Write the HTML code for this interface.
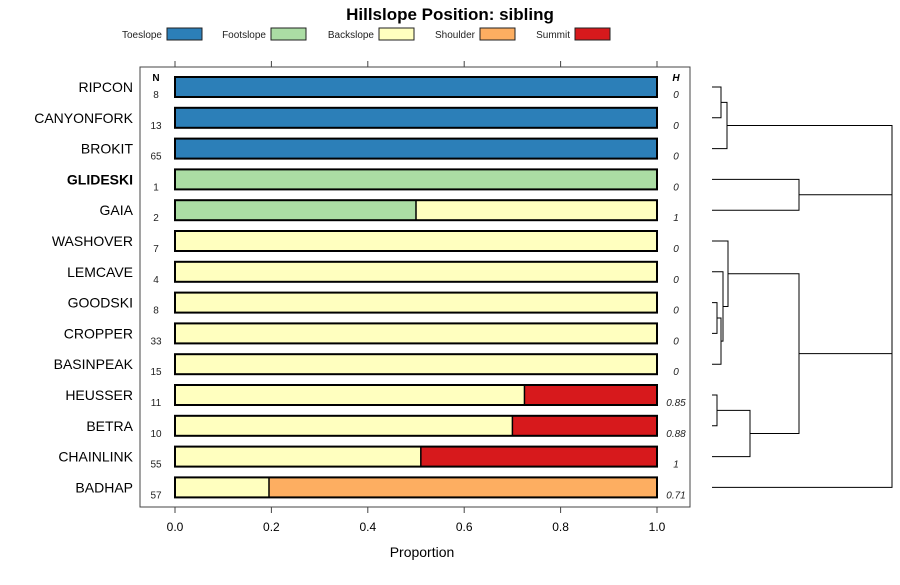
<!DOCTYPE html>
<html><head><meta charset="utf-8"><style>
body{margin:0;background:#fff;font-family:"Liberation Sans",sans-serif}
</style></head><body>
<svg id="c" width="900" height="580" xmlns="http://www.w3.org/2000/svg" font-family="Liberation Sans, sans-serif">
<text x="450" y="20" text-anchor="middle" font-size="17" font-weight="bold">Hillslope Position: sibling</text>
<g id="legend"></g>
<rect x="140" y="67" width="550" height="440" fill="none" stroke="#444"/>
<g id="bars"></g>
<g id="axis"></g>
<g id="dendro" stroke="#000" stroke-width="1" fill="none"></g>
<text x="422" y="557" text-anchor="middle" font-size="14">Proportion</text>
</svg>
<script>
const categories=["Toeslope","Footslope","Backslope","Shoulder","Summit"];
const colors=["#2c7fb8","#abdda4","#ffffbf","#fdae61","#d7191c"];
const series=["RIPCON","CANYONFORK","BROKIT","GLIDESKI","GAIA","WASHOVER","LEMCAVE","GOODSKI","CROPPER","BASINPEAK","HEUSSER","BETRA","CHAINLINK","BADHAP"];
const toeslope=[1,1,1,0,0,0,0,0,0,0,0,0,0,0];
const footslope=[0,0,0,1,0.5,0,0,0,0,0,0,0,0,0];
const backslope=[0,0,0,0,0.5,1,1,1,1,1,0.725,0.70,0.51,0.195];
const shoulder=[0,0,0,0,0,0,0,0,0,0,0,0,0,0.805];
const summit=[0,0,0,0,0,0,0,0,0,0,0.275,0.30,0.49,0];
const nValues=["8","13","65","1","2","7","4","8","33","15","11","10","55","57"];
const hValues=["0","0","0","0","1","0","0","0","0","0","0.85","0.88","1","0.71"];
const ticks=[0,0.2,0.4,0.6,0.8,1.0];
const tickLabels=["0.0","0.2","0.4","0.6","0.8","1.0"];
const NS="http://www.w3.org/2000/svg";
const x=v=>175+v*482;
const y=i=>87+i*30.8;
function mk(p,t,a){const e=document.createElementNS(NS,t);for(const k in a)e.setAttribute(k,a[k]);p.appendChild(e);return e;}
const svg=document.getElementById('c');
// legend
const lg=document.getElementById('legend');
const lgBoxX=[167,271,379,480,575];
categories.forEach((c,i)=>{
 const t=mk(lg,'text',{x:lgBoxX[i]-5,y:38,'text-anchor':'end','font-size':10,fill:'#222'});t.textContent=c;
 
 
 const r=mk(lg,'rect',{x:lgBoxX[i],y:28,width:35,height:12,fill:colors[i],stroke:'#222'});
 
 
});
// bars
const bg=document.getElementById('bars');
const data=[toeslope,footslope,backslope,shoulder,summit];
let nh=mk(bg,'text',{x:156,y:81,'text-anchor':'middle','font-size':10,'font-weight':'bold'});nh.textContent='N';

let hh=mk(bg,'text',{x:676,y:81,'text-anchor':'middle','font-size':10,'font-weight':'bold','font-style':'italic'});hh.textContent='H';

series.forEach((s,i)=>{
 const cy=y(i);
 const lab=mk(bg,'text',{x:133,y:cy+5,'text-anchor':'end','font-size':14,'font-weight':s==='GLIDESKI'?'bold':'normal'});lab.textContent=s;
 
 
 let acc=0;
 data.forEach((d,k)=>{
  if(d[i]>0){
   const r=mk(bg,'rect',{x:x(acc),y:cy-10,width:x(acc+d[i])-x(acc),height:20,fill:colors[k],stroke:'none'});
   
   
   if(acc>0){mk(bg,'line',{x1:x(acc),x2:x(acc),y1:cy-10,y2:cy+10,stroke:'#000','stroke-width':1.5});}
   acc+=d[i];
  }
 });
 const o=mk(bg,'rect',{x:x(0),y:cy-10,width:x(1)-x(0),height:20,fill:'none',stroke:'#000','stroke-width':2});
 
 
 const n=mk(bg,'text',{x:156,y:cy+11,'text-anchor':'middle','font-size':10,fill:'#222'});n.textContent=nValues[i];
 
 
 const h=mk(bg,'text',{x:676,y:cy+11,'text-anchor':'middle','font-size':10,'font-style':'italic',fill:'#222'});h.textContent=hValues[i];
 
 
});
// axis
const ax=document.getElementById('axis');
ticks.forEach((t,i)=>{
 mk(ax,'line',{x1:x(t),x2:x(t),y1:507,y2:513,stroke:'#444'});
 mk(ax,'line',{x1:x(t),x2:x(t),y1:61,y2:67,stroke:'#444'});
 const l=mk(ax,'text',{x:x(t),y:531,'text-anchor':'middle','font-size':12});l.textContent=tickLabels[i];
 
 
});
// dendrogram: [leafIndexOrNode, ...] merges as [a,b,x]
const dg=document.getElementById('dendro');
const merges=[[0,1,721],[-1,2,727],[3,4,799],[7,8,717],[-4,9,721],[6,-5,723],[5,-6,728],[10,11,717],[-8,12,750],[-7,-9,799],[-2,-3,892],[-11,-10,892],[-12,13,892]];
const nodes=[];
function pos(r){return r>=0?{x:712,y:y(r)}:nodes[-r-1];}
merges.forEach(m=>{
 const a=pos(m[0]),b=pos(m[1]);
 const p=mk(dg,'path',{d:`M${a.x},${a.y}H${m[2]}V${b.y}H${b.x}`});
 
 
 nodes.push({x:m[2],y:(a.y+b.y)/2});
});
</script>
</body></html>
